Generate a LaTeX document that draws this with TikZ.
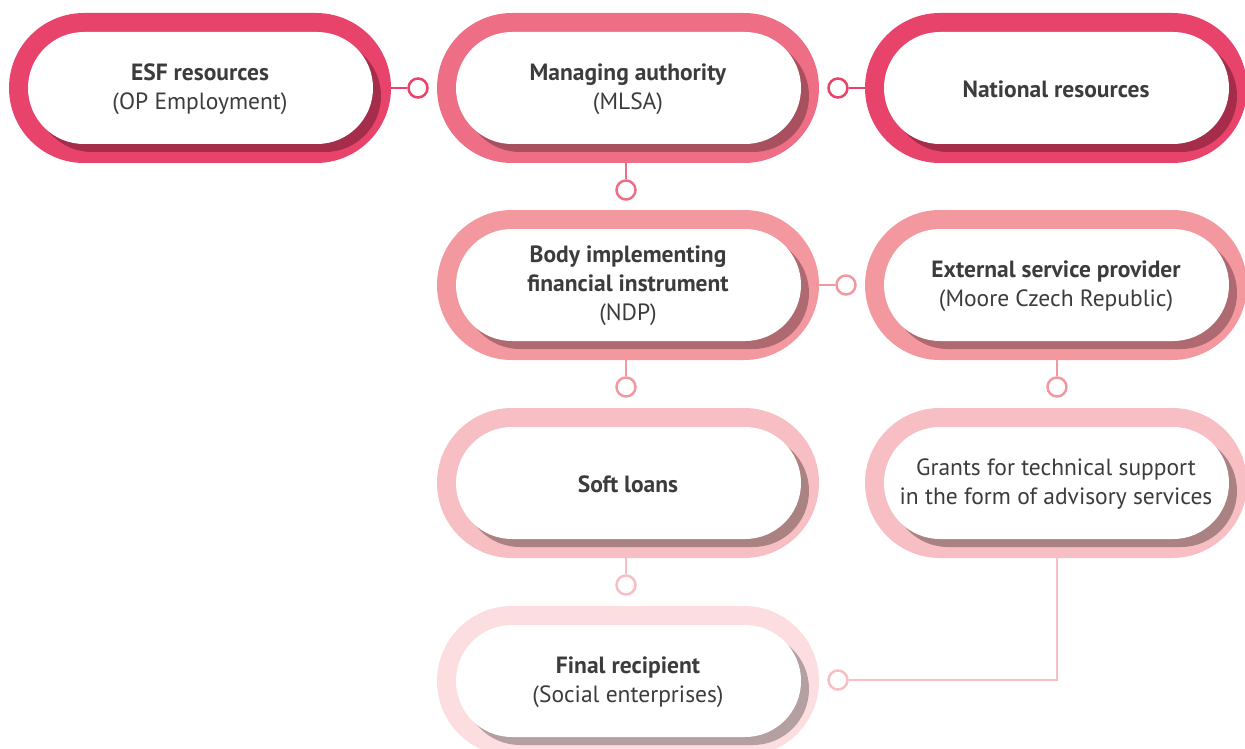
\documentclass[tikz,border=0pt]{standalone}
\usepackage{fontspec}
\setmainfont{PT Sans}
\usetikzlibrary{calc}
\definecolor{txt}{HTML}{3C3C3C}
\definecolor{ringA}{HTML}{E8436A}\definecolor{shA}{HTML}{A52C4A}
\definecolor{ringB}{HTML}{EE6F85}\definecolor{shB}{HTML}{A8505E}
\definecolor{ringC}{HTML}{F4989F}\definecolor{shC}{HTML}{AE6A70}
\definecolor{ringD}{HTML}{F7BEC3}\definecolor{shD}{HTML}{AA8282}
\definecolor{ringE}{HTML}{FCDEE0}\definecolor{shE}{HTML}{B5A0A1}
\tikzset{
  capsule/.style={rectangle, rounded corners=75pt, minimum width=382pt, minimum height=150pt, inner sep=0pt, draw=none},
  lbl/.style={align=center, text=txt, font=\fontsize{23.5}{29}\selectfont},
  dot/.style={circle, draw=#1, fill=white, line width=2.5pt, minimum size=19pt, inner sep=0pt},
  link/.style={draw=#1, line width=2pt},
}
\newcommand\capsulebox[6]{%
  \node[capsule, fill=#4] (#1) at (#2,#3) {};
  \fill[#5, rounded corners=56pt] ($(#1.center)+(-164,-48)$) rectangle ($(#1.center)+(181,64)$);
  \fill[white, rounded corners=56pt] ($(#1.center)+(-172,-56)$) rectangle ($(#1.center)+(173,56)$);
  \node[lbl] (#1-t) at ($(#1.center)+(0,1)$) {#6};
}
\begin{document}
\begin{tikzpicture}[x=1pt,y=-1pt]
\useasboundingbox (0,0) rectangle (1245,749);
\clip (0,0) rectangle (1245,749);
\capsulebox{esf}{200}{88}{ringA}{shA}{\textbf{ESF resources}\\(OP Employment)}
\capsulebox{ma}{628}{88}{ringB}{shB}{\textbf{Managing authority}\\(MLSA)}
\capsulebox{nat}{1056}{88}{ringA}{shA}{\textbf{National resources}}
\capsulebox{body}{628}{285}{ringC}{shC}{\textbf{Body implementing}\\\textbf{financial instrument}\\(NDP)}
\capsulebox{ext}{1056}{285}{ringC}{shC}{\textbf{External service provider}\\(Moore Czech Republic)}
\capsulebox{soft}{628}{483}{ringD}{shD}{\textbf{Soft loans}}
\capsulebox{grants}{1056}{483}{ringD}{shD}{Grants for technical support\\in the form of advisory services}
\capsulebox{final}{628}{681}{ringE}{shE}{\textbf{Final recipient}\\(Social enterprises)}
% connectors
\node[dot=ringA] (c1) at (418,88) {};
\node[dot=ringA] (c2) at (838,88) {};
\node[dot=ringB] (c3) at (626,190) {};
\node[dot=ringC] (c4) at (846,285) {};
\node[dot=ringC] (c5) at (626,387) {};
\node[dot=ringC] (c6) at (1057,387) {};
\node[dot=ringD] (c7) at (626,585) {};
\node[dot=ringD] (c8) at (838,680) {};
\draw[link=ringA] (esf.east) -- (c1.west);
\draw[link=ringA] (c2.east) -- (nat.west);
\draw[link=ringB] (c3.north |- ma.south) -- (c3.north);
\draw[link=ringC] (body.east) -- (c4.west);
\draw[link=ringC] (c5.north |- body.south) -- (c5.north);
\draw[link=ringC] (c6.north |- ext.south) -- (c6.north);
\draw[link=ringD] (c7.north |- soft.south) -- (c7.north);
\draw[link=ringD] (c6.north |- grants.south) -- (c6.north |- c8) -- (c8.east);
\end{tikzpicture}
\end{document}
